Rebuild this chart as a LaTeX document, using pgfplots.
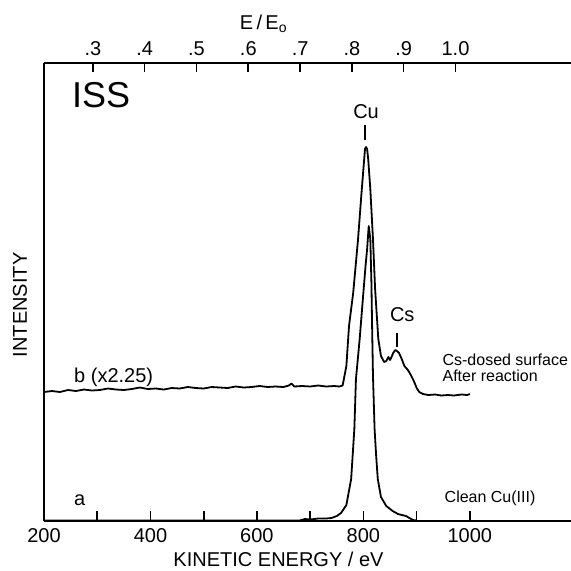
\documentclass[border=0pt]{standalone}
\usepackage{pgfplots}
\pgfplotsset{compat=1.18}
\usepackage{fontspec}
\setmainfont{Liberation Sans}

\begin{document}
\begin{tikzpicture}[x=1pt,y=1pt]
\path[use as bounding box] (0,0) rectangle (285.5,285);
\begin{axis}[
  at={(22pt,24.5pt)}, anchor=south west,
  width=263.5pt, height=229pt, scale only axis,
  xmin=200, xmax=1190, ymin=0, ymax=458,
  axis x line=bottom, axis y line=left,
  axis line style={-, line width=1.2pt, black},
  xtick={200,300,400,500,600,700,800,900,1000},
  xticklabels={200,,400,,600,,800,,1000},
  ytick=\empty,
  tick align=inside, major tick length=5pt,
  tick style={line width=0.8pt, black},
  ticklabel style={font=\fontsize{10}{12}\selectfont},
  xlabel={KINETIC ENERGY / eV},
  ylabel={INTENSITY},
  every axis x label/.style={at={(axis description cs:0.445,-0.083)}, anchor=center, font=\fontsize{10}{12}\selectfont},
  every axis y label/.style={at={(axis description cs:-0.0455,0.472)}, anchor=center, rotate=90, font=\fontsize{10}{12}\selectfont},
  clip=false,
]
% curve b (Cs-dosed surface, x2.25)
\addplot[black, line width=0.9pt, line join=round] coordinates {
(200,129) (215,130) (230,129) (245,131) (260,130) (275,131.5) (290,130.5)
(305,131) (320,132.5) (335,131.5) (350,131) (365,132) (380,133.5) (395,132)
(410,132.5) (425,131.5) (440,133) (455,132.5) (470,134) (485,133) (500,132.5)
(515,134) (530,133.5) (545,133) (560,134.5) (575,133.5) (590,134) (605,135)
(620,134) (635,134.5) (650,134) (660,135.5) (665,137.5) (670,134.5) (685,135)
(700,134.5) (715,135.5) (730,134.5) (745,135) (755,134.5) (761,135.5)
(768,155) (773,195) (781,229) (790,282) (796,325) (801.5,362) (803,372)
(805,374) (807,372) (809,362) (813,332) (818,282) (822,232) (828,182)
(833,165) (839,159) (843,160) (847,164) (850,161) (852,163) (856,168)
(860,171) (863,170) (867,168) (872,162) (877,155) (882,152) (886,149)
(891,144) (895.5,139) (900,133) (905,129) (912,127) (922,126) (935,126.5)
(946,125.5) (959,126) (970,125.5) (985,126.5) (995,126) (1000,127)
};
% curve a (clean Cu(111))
\addplot[black, line width=0.9pt, line join=round] coordinates {
(200,0.5) (680,0.5) (690,2) (700,1.5) (715,2.5) (730,2.5) (740,3) (750,5)
(758,8) (768,16) (777,42) (783,92) (786,142) (793,182) (799,222) (804,255)
(807,272) (810,295) (813,282) (815,240) (816.5,190) (818,145) (820,110)
(821,92) (824,65) (827,42) (833,24) (843,15) (855,10) (865,7) (880,5)
(893,1) (900,0.5)
};
\node[anchor=west, inner sep=0, font=\fontsize{18}{20}\selectfont] at (axis cs:252,426) {ISS};
\node[anchor=west, inner sep=0] at (axis cs:256,143.5) {b (x2.25)};
\node[anchor=west, inner sep=0] at (axis cs:256,21) {a};
\node[inner sep=0] at (axis cs:805,409) {Cu};
\draw[line width=0.9pt] (axis cs:803,381) -- (axis cs:803,396);
\node[inner sep=0] at (axis cs:873,206) {Cs};
\draw[line width=0.9pt] (axis cs:863.5,174) -- (axis cs:863.5,188);
\node[anchor=west, inner sep=0, align=left, font=\fontsize{8}{8}\selectfont] at (axis cs:948,153) {Cs-dosed surface\\After reaction};
\node[anchor=west, inner sep=0, font=\fontsize{8}{9}\selectfont] at (axis cs:952,23) {Clean Cu(III)};
\end{axis}
\begin{axis}[
  at={(22pt,24.5pt)}, anchor=south west,
  width=263.5pt, height=229pt, scale only axis,
  xmin=0.2056, xmax=1.2230, ymin=0, ymax=458,
  axis x line=top, axis y line=none,
  axis line style={-, line width=1.2pt, black},
  xtick={0.3,0.4,0.5,0.6,0.7,0.8,0.9,1.0},
  xticklabels={.3,.4,.5,.6,.7,.8,.9,1.0},
  ytick=\empty,
  tick align=inside, major tick length=4.5pt,
  tick style={line width=0.8pt, black},
  ticklabel style={font=\fontsize{10}{12}\selectfont},
  xlabel={E\,/\,E\textsubscript{o}},
  every axis x label/.style={at={(axis description cs:0.417,1.085)}, anchor=center, font=\fontsize{10}{12}\selectfont},
]
\end{axis}
\end{tikzpicture}
\end{document}
